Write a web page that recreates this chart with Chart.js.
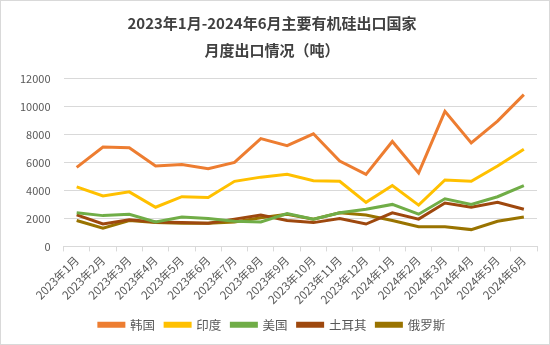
<!DOCTYPE html>
<html>
<head>
<meta charset="utf-8">
<script src="https://cdn.jsdelivr.net/npm/chart.js@4.4.0/dist/chart.umd.min.js"></script>
<style>
  html, body { margin: 0; padding: 0; background: #fff; }
  #wrap { width: 548px; height: 343px; border: 1px solid #d9d9d9; }
</style>
</head>
<body>
<div id="wrap"><canvas id="myChart" width="548" height="343"></canvas></div>
<script>
const months = ['2023年1月','2023年2月','2023年3月','2023年4月','2023年5月','2023年6月',
  '2023年7月','2023年8月','2023年9月','2023年10月','2023年11月','2023年12月',
  '2024年1月','2024年2月','2024年3月','2024年4月','2024年5月','2024年6月'];

const korea  = [5650,7100,7050,5750,5850,5550,6000,7700,7200,8050,6100,5150,7500,5250,9650,7400,8950,10850];
const india  = [4250,3600,3900,2800,3550,3500,4650,4950,5150,4700,4650,3150,4350,2950,4750,4650,5750,6950];
const usa    = [2400,2200,2300,1750,2100,2000,1800,1750,2350,1950,2400,2650,3000,2300,3400,3000,3550,4350];
const turkey = [2250,1600,1900,1750,1700,1650,1950,2250,1850,1700,2000,1600,2400,1950,3100,2800,3150,2650];
const russia = [1850,1300,1850,1700,1650,1650,1750,2050,2300,1950,2400,2250,1850,1400,1400,1200,1800,2100];

const yTicks = [0, 2000, 4000, 6000, 8000, 10000, 12000];

const fontFamily = '"Noto Sans CJK SC", "Noto Sans", sans-serif';

function series(label, data, color) {
  return {
    label: label,
    data: data,
    borderColor: color,
    backgroundColor: color,
    borderWidth: 3,
    pointRadius: 0,
    tension: 0
  };
}

const ctx = document.getElementById('myChart');

new Chart(ctx, {
  type: 'line',
  data: {
    labels: months,
    datasets: [
      series('韩国', korea, '#ED7D31'),
      series('印度', india, '#FFC000'),
      series('美国', usa, '#70AD47'),
      series('土耳其', turkey, '#9E480E'),
      series('俄罗斯', russia, '#997300')
    ]
  },
  options: {
    responsive: false,
    animation: false,
    layout: { padding: { left: 6, right: 12, top: 4, bottom: 3 } },
    plugins: {
      title: {
        display: true,
        text: ['2023年1月-2024年6月主要有机硅出口国家', '月度出口情况（吨）'],
        color: '#404040',
        font: { family: fontFamily, size: 15, weight: 'bold', lineHeight: 1.85 },
        padding: { top: 4, bottom: 14 }
      },
      legend: {
        position: 'bottom',
        labels: {
          color: '#595959',
          font: { family: fontFamily, size: 12.5 },
          boxWidth: 25,
          boxHeight: 3,
          padding: 10
        }
      },
      tooltip: { enabled: false }
    },
    scales: {
      x: {
        offset: true,
        grid: { offset: true, drawOnChartArea: false, drawTicks: true, tickLength: 5, color: '#d9d9d9' },
        border: { color: '#d9d9d9' },
        ticks: {
          color: '#595959',
          font: { family: fontFamily, size: 11.5 },
          maxRotation: 45,
          minRotation: 45,
          autoSkip: false,
          padding: 2
        }
      },
      y: {
        min: 0,
        max: yTicks[yTicks.length - 1],
        afterBuildTicks: axis => { axis.ticks = yTicks.map(v => ({ value: v })); },
        grid: { color: '#d9d9d9', drawTicks: false },
        border: { display: false },
        ticks: {
          color: '#595959',
          font: { family: fontFamily, size: 11 },
          padding: 13,
          callback: v => String(v)
        }
      }
    }
  }
});
</script>
</body>
</html>
